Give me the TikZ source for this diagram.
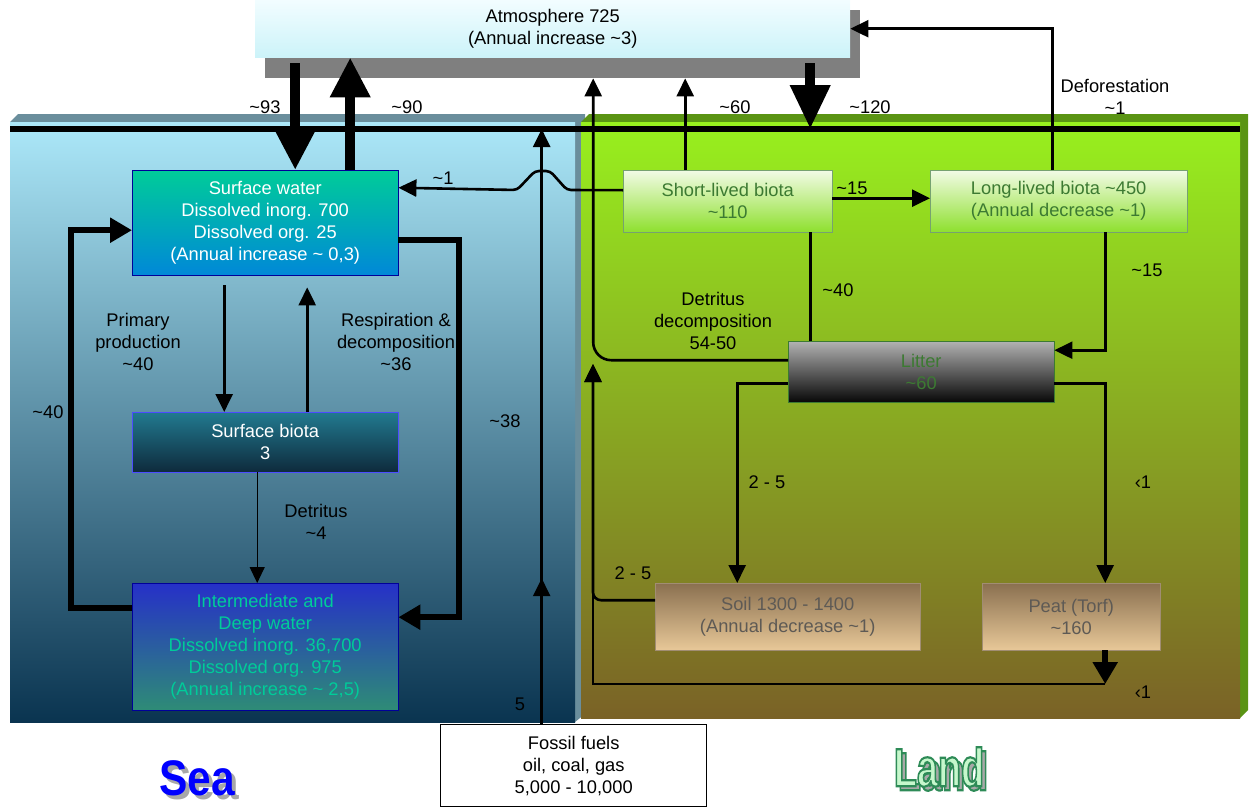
\documentclass[tikz,border=0pt]{standalone}
\usepackage{fontspec}
\setmainfont{Liberation Sans}
\usetikzlibrary{arrows.meta,decorations.markings}

\definecolor{seaedge}{HTML}{6A8E9C}
\definecolor{seatop}{HTML}{ACE8F9}
\definecolor{seamid}{HTML}{82AEC4}
\definecolor{seabot}{HTML}{0A3450}
\definecolor{landedge}{HTML}{5A9414}
\definecolor{landtop}{HTML}{98F01E}
\definecolor{landmid}{HTML}{86AE22}
\definecolor{landbot}{HTML}{7A6226}
\definecolor{atmtop}{HTML}{F2FDFF}
\definecolor{atmbot}{HTML}{CCF3F9}
\definecolor{atmshade}{HTML}{7F7F7F}
\definecolor{swtop}{HTML}{00CC99}
\definecolor{swbot}{HTML}{0088D8}
\definecolor{sbtop}{HTML}{227A90}
\definecolor{sbbot}{HTML}{0E2A3C}
\definecolor{dwtop}{HTML}{2630C8}
\definecolor{dwbot}{HTML}{2E8C76}
\definecolor{dwtext}{HTML}{00CC99}
\definecolor{biotop}{HTML}{F2FBE6}
\definecolor{biobot}{HTML}{8EE02E}
\definecolor{leaf}{HTML}{3C7A32}
\definecolor{littop}{HTML}{B2B2B2}
\definecolor{litbot}{HTML}{080808}
\definecolor{soiltop}{HTML}{8A7050}
\definecolor{soilbot}{HTML}{E8C898}
\definecolor{mud}{HTML}{5E5A55}
\definecolor{landfill}{HTML}{C6F7CC}
\definecolor{shadowgray}{HTML}{A8A8A8}
\newcommand{\tld}{\textasciitilde}
% big title with a drop shadow, kept in one box
\newcommand{\shadowtitle}[3]{\makebox[0pt][l]{\hspace{4pt}\raisebox{-4pt}{\color{shadowgray}\scalebox{#1}[1]{#3}}}{\color{#2}\scalebox{#1}[1]{#3}}}
% outlined letters: stroke in dark green, fill light green
\newcommand{\outlined}[1]{\special{pdf:literal direct 2 Tr 2.2 w 0.18 0.545 0.341 RG}#1\special{pdf:literal direct 0 Tr}}

\begin{document}
\begin{tikzpicture}[x=1pt,y=-1pt,font=\fontsize{18.3}{22}\selectfont,
 box/.style={anchor=north west,align=center,inner sep=0pt},
 flow/.style={-{Triangle[length=18pt,width=17pt]},line width=2.6pt},
 thinflow/.style={-{Triangle[length=16pt,width=15pt]},line width=1.2pt},
 loopflow/.style={-{Triangle[length=22pt,width=24pt]},line width=6pt},
 fat/.style={-{Triangle[length=40pt,width=38pt]},line width=10pt},
 lbl/.style={align=center,inner sep=0pt}]
\useasboundingbox (0,0) rectangle (1249,808);

% sea and land blocks
\fill[seaedge] (10,122) -- (18,114) -- (585,114) -- (585,714) -- (575,722) -- cycle;
\shade[top color=seatop,middle color=seamid,bottom color=seabot] (10,122) rectangle (575,722);
\fill[landedge] (581,122) -- (589,114) -- (1248,114) -- (1248,710) -- (1240,718) -- cycle;
\shade[top color=landtop,middle color=landmid,bottom color=landbot] (581,122) rectangle (1240,718);
\coordinate (hl) at (10,129);
\coordinate (hr) at (1240,129);
\draw[line width=6pt] (hl) -- (hr);

% reservoirs
\node[box,minimum width=595pt,minimum height=68pt,fill=atmshade] (atmsh) at (265,10) {};
\node[box,minimum width=595pt,minimum height=57pt,top color=atmtop,bottom color=atmbot] (atm) at (255,0)
 {Atmosphere 725\\(Annual increase \tld3)};
\node[box,minimum width=266pt,minimum height=105pt,draw=blue!60!black,top color=swtop,bottom color=swbot,text=white] (sw) at (132,170)
 {Surface water\\Dissolved inorg. 700\\Dissolved org. 25\\(Annual increase \tld{} 0,3)};
\node[box,minimum width=266pt,minimum height=60pt,draw=blue!70,top color=sbtop,bottom color=sbbot,text=white] (sb) at (132,412)
 {Surface biota\\3};
\node[box,minimum width=266pt,minimum height=127pt,draw=blue!60!black,top color=dwtop,bottom color=dwbot,text=dwtext] (dw) at (132,583)
 {Intermediate and\\Deep water\\Dissolved inorg. 36,700\\Dissolved org. 975\\(Annual increase \tld{} 2,5)};
\node[box,minimum width=209pt,minimum height=62pt,draw=leaf!70,top color=biotop,bottom color=biobot,text=leaf] (slb) at (623,170)
 {Short-lived biota\\\tld110};
\node[box,minimum width=257pt,minimum height=62pt,draw=leaf!70,top color=biotop,bottom color=biobot,text=leaf] (llb) at (930,170)
 {Long-lived biota \tld450\\(Annual decrease \tld1)};
\node[box,minimum width=266pt,minimum height=61pt,draw=leaf,top color=littop,bottom color=litbot,text=leaf] (lit) at (788,341)
 {Litter\\\tld60};
\node[box,minimum width=265pt,minimum height=67pt,draw=soiltop!80,top color=soiltop,bottom color=soilbot,text=mud] (soil) at (655,583)
 {Soil 1300 - 1400\\(Annual decrease \tld1)};
\node[box,minimum width=178pt,minimum height=67pt,draw=soiltop!80,top color=soiltop,bottom color=soilbot,text=mud] (peat) at (982,583)
 {Peat (Torf)\\\tld160};
\node[box,minimum width=266pt,minimum height=82pt,draw,line width=1.4pt,fill=white] (fossil) at (440,724)
 {Fossil fuels\\oil, coal, gas\\5,000 - 10,000};

% sea fluxes
\draw[fat] ([xshift=30pt,yshift=-6pt]sw.north |- atm.south) -- ([xshift=30pt]sw.north);
\draw[fat] ([xshift=85pt]sw.north) -- ([xshift=85pt]sw.north |- atm.south);
\draw[flow] ([xshift=-41pt,yshift=-10pt]sw.south) -- ([xshift=-41pt]sb.north);
\draw[flow] ([xshift=42pt]sb.north) -- ([xshift=42pt,yshift=-12pt]sw.south);
\draw[thinflow] ([xshift=-8pt]sb.south) -- ([xshift=-8pt]dw.north);
\draw[loopflow] ([yshift=38.5pt]dw.west) -- ++(-61,0) |- ([yshift=-7.5pt]sw.west);
\draw[loopflow] ([yshift=-17.5pt]sw.east) -- ++(61,0) |- ([yshift=29.5pt]dw.east);

% land fluxes
\draw[flow] ([xshift=-42.5pt]slb.north) -- ([xshift=-42.5pt]slb.north |- atmsh.south);
\draw[fat,-{Triangle[length=44pt,width=38pt]}] ([xshift=257.5pt,yshift=-6pt]atm.south) -- ([xshift=257.5pt]atm.south |- hl);
\draw[flow] ([xshift=-6pt]llb.north) |- (atm.east);
\draw[flow,rounded corners=4pt] ([yshift=11pt]slb.west) -- (567,190) -- (550,171) -- (535,171) -- (517,190) -- ([yshift=35pt]sw.east);
\draw[flow] ([yshift=3pt]slb.east) -- ([yshift=3pt]llb.west);
\draw[line width=2.6pt] ([xshift=82.5pt]slb.south) -- ([xshift=82.5pt]slb.south |- lit.north);
\draw[flow] ([xshift=46.5pt]llb.south) |- ([yshift=21.5pt]lit.east);
\draw[flow,rounded corners=18pt] ([yshift=11.5pt]lit.west) -| ([xshift=30.5pt]atmsh.south);
\draw[flow] ([yshift=-11.5pt]lit.west) -| ([xshift=-50.5pt]soil.north);
\draw[flow] ([yshift=-11.5pt]lit.east) -| ([xshift=34pt]peat.north);
\coordinate (ret) at (593,364);
\coordinate (bot) at (593,684);
\draw[flow,rounded corners=8pt] ([yshift=16.5pt]soil.west) -| (ret);
\draw[loopflow] ([xshift=34pt]peat.south) -- ([xshift=34pt]peat.south |- bot);
\draw[flow] ([xshift=34pt]peat.south |- bot) -- (bot) -- (ret);
\draw[flow,postaction={decorate},decoration={markings,mark=at position 0.245 with {\arrow{Triangle[length=18pt,width=17pt]}}}]
 ([xshift=-32pt]fossil.north) -- ([xshift=-32pt]fossil.north |- hl);

% flux labels
\node[lbl] (l93) at (265,107) {\tld93};
\node[lbl] (l90) at (407,107) {\tld90};
\node[lbl] (l60) at (735,107) {\tld60};
\node[lbl] (l120) at (870,107) {\tld120};
\node[lbl] (ldef) at (1115,97) {Deforestation\\\tld1};
\node[lbl] (l1) at (443,178) {\tld1};
\node[lbl] (l15a) at (852,188) {\tld15};
\node[lbl] (l40b) at (838,290) {\tld40};
\node[lbl] (l15b) at (1147,270) {\tld15};
\node[lbl] (ldd) at (713,321) {Detritus\\decomposition\\54-50};
\node[lbl] (l25a) at (767,482) {2 - 5};
\node[lbl] (llt1) at (1143,482) {‹1};
\node[lbl] (l25b) at (633,573) {2 - 5};
\node[lbl] (llt2) at (1143,692) {‹1};
\node[lbl] (lpp) at (138,342) {Primary\\production\\\tld40};
\node[lbl] (lrd) at (396,342) {Respiration \&\\decomposition\\\tld36};
\node[lbl] (ldet) at (316,522) {Detritus\\\tld4};
\node[lbl] (l40a) at (48,412) {\tld40};
\node[lbl] (l38) at (505,421) {\tld38};
\node[lbl] (l5) at (520,704) {5};

% titles
\node[lbl,font=\fontsize{50}{50}\selectfont\bfseries] (sea) at (197,780) {\shadowtitle{0.85}{blue}{Sea}};
\node[lbl,font=\fontsize{54}{54}\selectfont\bfseries] (land) at (939,769) {\shadowtitle{0.7}{landfill}{\outlined{Land}}};
\end{tikzpicture}
\end{document}
